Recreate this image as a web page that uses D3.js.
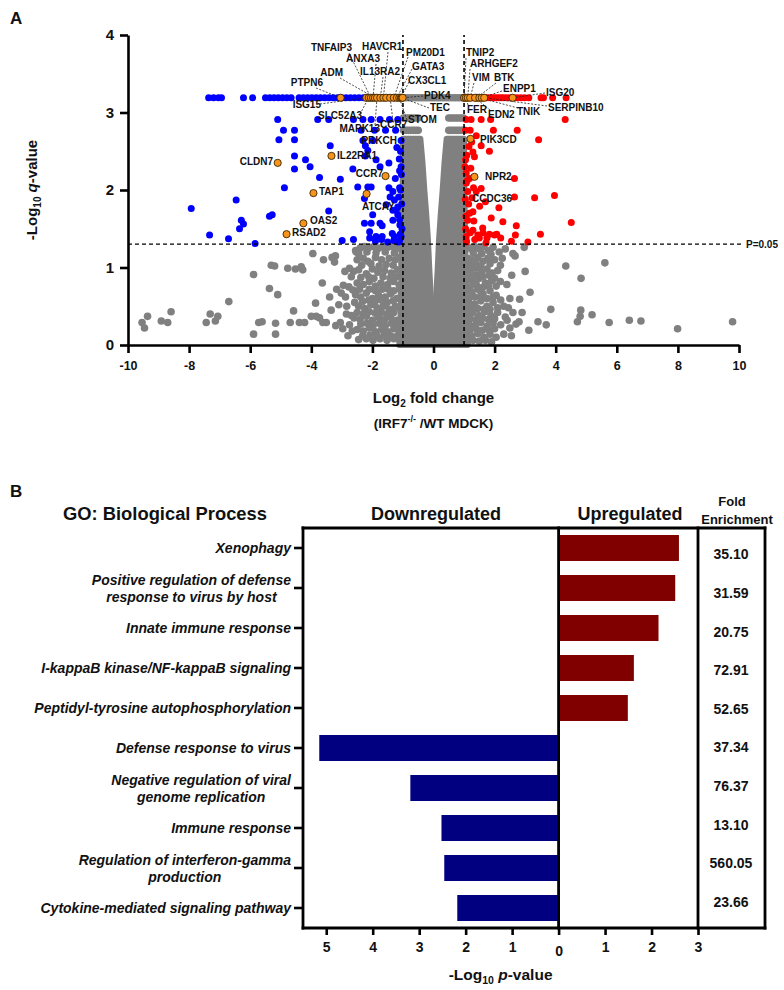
<!DOCTYPE html>
<html><head><meta charset="utf-8">
<script src="https://cdn.jsdelivr.net/npm/d3@7"></script>
<style>
body{margin:0;background:#fff}
svg{display:block}
text{font-family:"Liberation Sans",Arial,Helvetica,sans-serif;font-weight:bold;fill:#111}
</style>
</head><body>
<svg id="c" width="784" height="990"></svg>
<script>
// ---------------- Panel A data (volcano) ----------------
const xTicks = [-10,-8,-6,-4,-2,0,2,4,6,8,10];
const yTicks = [0,1,2,3,4];
const TOP_Q = 3.19;
const FC_CUT = 1;
const Q_CUT = 1.301;

// top-row significant genes (q capped at TOP_Q)
const downTopRowX = [-7.36,-7.2,-7.04,-6.94,-6.22,-5.92,-5.5,-5.36,-5.22,-5.08,-4.94,-4.8,-4.66,-4.4,-4.26,-4.12,-3.98,-3.84,-3.7,-3.56,-3.42,-3.28,-3.14,-3.0,-2.86,-2.72,-2.58,-2.44,-2.3,-2.16,-2.02,-1.88,-1.74,-1.6,-1.46,-1.32,-1.18,-1.04];
const upTopRowX = [1.02,1.1,1.18,1.26,1.34,1.42,1.5,1.58,1.66,1.74,1.82,1.9,1.98,2.06,2.14,2.22,2.3,2.4,2.5,2.62,2.74,2.86,2.98,3.12,3.52,3.6,3.9,4.34];

// other downregulated genes [log2FC, -log10 q]
const downPoints = [
[-5.10,2.91],[-4.91,2.77],[-4.55,2.77],[-5.06,2.65],[-4.55,2.65],[-4.55,2.44],[-4.19,2.39],[-4.04,2.30],[-4.55,2.27],
[-3.73,2.16],[-3.05,2.14],[-3.38,2.57],[-4.88,2.03],[-2.48,2.04],[-6.46,1.87],[-7.93,1.76],[-3.43,1.73],[-5.37,1.66],
[-5.28,1.68],[-6.29,1.61],[-6.22,1.56],[-6.35,1.50],[-7.33,1.42],[-6.71,1.37],[-5.84,1.31],[-2.99,1.35],[-2.62,1.36],
[-3.79,2.91],[-3.43,2.91],[-2.62,2.91],[-2.31,2.91],[-2.04,2.91],[-1.75,2.91],[-1.44,2.91],[-1.17,2.91],
[-2.37,2.77],[-1.93,2.77],[-1.57,2.77],[-1.24,2.77],[-2.31,2.64],[-1.99,2.64],[-1.06,2.64],
[-2.23,2.57],[-2.15,2.51],[-2.23,2.44],[-1.88,2.39],[-1.46,2.35],[-1.75,2.30],[-1.06,2.30],[-1.11,2.25],
[-2.64,2.27],[-2.15,2.04],[-2.04,2.04],[-1.46,2.03],[-1.33,1.98],[-1.11,2.03],[-1.42,1.91],[-1.28,1.87],[-1.14,1.91],
[-1.17,1.78],[-1.55,1.81],[-1.33,1.74],[-1.17,1.68],[-1.11,1.62],[-1.33,1.61],[-2.26,1.89],[-1.99,1.68],[-2.04,1.57],
[-1.75,1.57],[-1.68,1.54],[-2.26,1.57],[-2.09,1.46],[-1.88,1.40],[-1.68,1.40],[-1.35,1.44],[-1.28,1.40],[-1.09,1.43],
[-2.09,1.38],[-1.11,1.35],[-1.22,1.74],[-1.05,2.2],[-1.08,2.0],[-1.04,1.82],[-1.1,1.55],[-1.03,1.5],[-1.06,1.4],
[-1.15,1.33],[-1.3,1.35],[-1.5,1.33],[-1.7,1.36],[-1.9,1.34],[-1.2,2.55],[-1.08,2.5],[-1.12,2.4],[-1.25,2.15]
];
// other upregulated genes
const upPoints = [
[1.07,2.91],[1.23,2.91],[1.56,2.91],[1.87,2.91],[4.31,2.91],[1.05,2.77],[1.2,2.77],[1.96,2.77],[2.74,2.77],[3.44,2.65],
[1.56,2.57],[1.16,2.56],[1.83,2.50],[1.29,2.49],[1.09,2.45],[1.34,2.43],[1.05,2.39],[2.65,2.15],[1.07,2.22],[1.18,2.15],
[1.07,2.09],[1.31,2.03],[1.56,2.02],[1.12,1.98],[2.65,1.91],[3.31,1.90],[3.96,1.93],[1.51,1.79],[2.14,1.77],[1.29,1.72],
[1.89,1.64],[2.27,1.59],[2.71,1.54],[4.51,1.58],[3.50,1.43],[2.68,1.42],[2.07,1.43],[1.83,1.43],[1.29,1.48],[1.45,1.42],
[1.07,1.40],[1.12,1.61],[1.61,1.51],[3.09,1.33],[1.72,1.32],[1.07,1.35],[1.03,2.3],[1.1,2.12],[1.22,2.28],[1.04,1.88],
[1.15,1.82],[1.26,1.9],[1.06,1.66],[1.18,1.7],[1.32,1.6],[1.05,1.5],[1.2,1.45],[1.35,1.36],[1.5,1.38],[1.62,1.45],
[1.75,1.38],[2.0,1.42],[2.2,1.38],[1.08,1.33],[2.55,1.34],[1.4,1.98],[1.7,1.85],[1.25,2.62],[1.4,2.7]
];
// non-significant genes drawn individually
const nsRows = [
{q:3.19, xs:[-0.98,-0.88,-0.78,-0.68,-0.58,-0.48,-0.38,-0.28,-0.18,-0.08,0.02,0.12,0.22,0.32,0.42,0.52,0.62,0.72,0.82,0.92,0.98]},
{q:2.93, xs:[-0.98,-0.9,-0.82,-0.74,-0.66,-0.58,-0.5,0.5,0.58,0.66,0.74,0.82,0.9,0.98]},
{q:2.77, xs:[-0.98,-0.9,-0.82,-0.74,-0.66,-0.58,-0.5,0.5,0.58,0.66,0.74,0.82,0.9,0.98]}
];
const nsPoints = [
[-9.54,0.29],[-9.46,0.22],[-9.36,0.37],[-8.91,0.31],[-8.7,0.29],[-8.59,0.43],[-7.44,0.29],[-7.31,0.40],[-7.14,0.31],
[-7.06,0.37],[-6.70,0.56],[-5.89,0.91],[-5.89,0.14],[-5.72,0.29],[-5.61,0.30],[-5.37,0.73],[-5.31,1.03],[-5.2,1.02],
[-5.17,0.28],[-5.17,0.14],[-5.1,0.65],[-4.77,0.99],[-4.69,0.29],[-4.58,0.44],[-4.52,0.98],[-4.33,1.01],[-4.28,0.97],
[-4.39,0.29],[-4.22,0.29],[-3.95,1.18],[-3.86,0.54],[-4.0,0.37],[-3.84,0.37],[-3.73,0.35],[-3.62,0.29],[-3.6,1.10],
[-3.64,0.80],[-3.51,0.29],[-3.32,1.13],[-3.24,1.07],[-3.21,1.15],[-3.17,0.72],[-3.10,0.52],[-3.05,0.29],[-3.02,0.67],
[-2.97,0.21],[-2.95,0.77],[-2.84,0.50],[-2.77,0.75],[-2.75,0.26],[-2.75,0.99],[-2.69,0.88],[-2.69,0.38],[-2.66,0.18],
[-2.64,0.71],[-2.53,1.20],
[-2.55,1.22],[-2.4,1.25],[-2.25,1.27],[-2.1,1.26],[-1.95,1.27],[-1.8,1.25],[-1.65,1.27],[-1.5,1.26],[-1.35,1.27],[-1.2,1.25],[-1.08,1.27],
[-2.5,1.1],[-2.3,1.12],[-2.15,1.08],[-1.9,1.13],[-1.7,1.1],[-1.45,1.12],[-1.25,1.1],[-1.1,1.13],
[-2.62,0.95],[-2.45,0.97],[-2.2,0.92],[-2.0,0.98],[-1.82,0.94],[-1.6,0.96],[-1.38,0.93],[-1.18,0.97],[-1.05,0.9],
[-2.5,0.8],[-2.3,0.78],[-2.1,0.82],[-1.9,0.76],[-1.72,0.8],[-1.5,0.78],[-1.3,0.82],[-1.12,0.77],
[-2.55,0.65],[-2.38,0.62],[-2.2,0.67],[-2.0,0.6],[-1.8,0.64],[-1.58,0.62],[-1.4,0.66],[-1.2,0.6],[-1.05,0.65],
[-2.45,0.5],[-2.25,0.47],[-2.05,0.52],[-1.85,0.48],[-1.65,0.5],[-1.45,0.46],[-1.25,0.5],[-1.1,0.47],
[-2.6,0.35],[-2.4,0.33],[-2.2,0.37],[-2.0,0.32],[-1.8,0.36],[-1.6,0.33],[-1.4,0.36],[-1.2,0.32],[-1.05,0.35],
[-2.5,0.2],[-2.3,0.18],[-2.1,0.22],[-1.9,0.17],[-1.7,0.2],[-1.5,0.17],[-1.3,0.21],[-1.12,0.18],
[-2.45,0.07],[-2.2,0.08],[-1.98,0.06],[-1.75,0.08],[-1.52,0.06],[-1.3,0.08],[-1.1,0.06],
[-2.45,1.18],[-2.18,1.2],[-1.88,1.19],[-1.58,1.2],[-1.28,1.19],[-1.02,1.2],[-2.35,1.03],[-2.05,1.05],[-1.78,1.02],
[-1.55,1.04],[-1.32,1.03],[-1.03,1.05],[-2.38,0.87],[-2.12,0.88],[-1.95,0.86],[-1.65,0.88],[-1.42,0.86],[-1.22,0.88],
[-1.02,0.82],[-2.42,0.72],[-2.1,0.72],[-1.9,0.7],[-1.68,0.72],[-1.48,0.72],[-1.3,0.7],[-1.1,0.72],[-2.32,0.56],
[-2.12,0.58],[-1.92,0.56],[-1.72,0.58],[-1.52,0.55],[-1.32,0.57],[-1.02,0.55],[-2.5,0.42],[-2.3,0.4],[-2.1,0.43],
[-1.9,0.41],[-1.7,0.42],[-1.5,0.4],[-1.3,0.42],[-1.02,0.42],[-2.38,0.27],[-2.18,0.28],[-1.98,0.25],[-1.78,0.28],
[-1.58,0.25],[-1.38,0.28],[-1.18,0.25],[-1.02,0.25],[-2.32,0.12],[-2.08,0.13],[-1.85,0.12],[-1.62,0.13],[-1.4,0.12],
[-1.18,0.12],[-1.02,0.1],[-2.85,0.4],[-2.88,0.62],[-2.9,0.95],[-2.58,0.55],[-3.35,0.45],[-3.4,0.62],[-2.8,0.12],[-3.2,0.25],
[1.08,1.27],[1.2,1.25],[1.35,1.27],[1.5,1.24],[1.65,1.27],[1.8,1.22],[1.95,1.26],[2.15,1.2],[2.35,1.24],[2.6,1.18],[2.97,1.26],
[1.12,1.12],[1.28,1.1],[1.45,1.13],[1.62,1.08],[1.78,1.12],[2.0,1.1],[2.67,1.15],
[1.05,0.98],[1.22,0.96],[1.4,0.99],[1.58,0.94],[1.75,0.98],[1.92,0.93],[2.19,1.03],[2.56,0.9],
[1.1,0.84],[1.3,0.82],[1.5,0.86],[1.7,0.8],[1.9,0.83],[2.19,0.82],[2.4,0.78],
[1.05,0.7],[1.25,0.68],[1.45,0.72],[1.62,0.66],[1.85,0.7],[2.05,0.64],[2.82,0.59],[3.16,0.68],
[1.15,0.55],[1.35,0.53],[1.55,0.57],[1.75,0.5],[1.95,0.55],[2.3,0.5],[2.5,0.6],
[1.08,0.4],[1.28,0.42],[1.48,0.38],[1.68,0.43],[1.88,0.38],[2.1,0.42],[2.35,0.36],[2.6,0.42],
[1.15,0.27],[1.35,0.25],[1.55,0.29],[1.75,0.24],[1.95,0.28],[2.2,0.26],[2.41,0.32],[2.7,0.27],[3.42,0.30],[3.69,0.26],
[1.05,0.13],[1.25,0.12],[1.45,0.15],[1.65,0.1],[1.85,0.14],[2.05,0.1],[2.3,0.14],[2.55,0.12],[3.12,0.19],
[1.12,0.04],[1.5,0.05],[1.9,0.04],
[1.02,1.2],[1.3,1.19],[1.58,1.18],[1.88,1.17],[2.25,1.12],[1.02,1.06],[1.2,1.04],[1.38,1.05],[1.55,1.02],[1.85,1.05],
[2.1,0.96],[1.02,0.9],[1.2,0.88],[1.4,0.9],[1.62,0.88],[1.82,0.9],[2.0,0.86],[1.02,0.78],[1.2,0.75],[1.4,0.78],
[1.6,0.74],[1.8,0.76],[2.05,0.76],[1.02,0.62],[1.15,0.6],[1.35,0.62],[1.55,0.64],[1.75,0.6],[1.95,0.62],[2.2,0.58],
[1.02,0.48],[1.25,0.48],[1.45,0.47],[1.65,0.46],[1.85,0.46],[2.1,0.48],[1.02,0.34],[1.2,0.34],[1.4,0.33],[1.6,0.35],
[1.8,0.33],[2.0,0.34],[1.02,0.2],[1.2,0.2],[1.4,0.21],[1.6,0.19],[1.8,0.2],[2.0,0.21],[1.3,0.06],[1.7,0.06],
[2.45,0.48],[2.5,0.22],[2.8,0.3],
[3.84,0.46],[4.33,1.02],[4.83,0.86],[5.61,1.06],[4.82,0.45],[5.19,0.39],[4.8,0.37],[4.71,0.30],[5.75,0.29],
[6.41,0.32],[6.79,0.31],[7.99,0.21],[9.79,0.30],[3.0,0.95],[2.9,0.42]
];
// envelope of the densely overlapping non-significant genes around log2FC = 0
const cloudQ     = [0,    0.12, 0.45, 0.71, 1.0,  1.35, 1.7,  2.0,  2.35, 2.66];
const cloudInner = [0,    0,    0.06, 0.1,  0.14, 0.18, 0.24, 0.3,  0.36, 0.43];
const cloudOuter = [1.12, 1.1,  1.07, 1.05, 1.04, 1.03, 1.02, 1.01, 1.0,  1.0];

// highlighted genes
const hiIds   = ["PTPN6","ISG15","SLC52A3","TNFAIP3","ANXA3","ADM","MAPK13","IL13RA2","HAVCR1","PRKCH","CCR7a","PM20D1","GATA3","STOM","CX3CL1","TEC","PDK4",
                 "TNIP2","FER","ARHGEF2","VIM","BTK","EDN2","TNIK","ENPP1","SERPINB10","ISG20",
                 "IL22RA1","CLDN7","CCR7b","TAP1","ATCAY","OAS2","RSAD2","PIK3CD","NPR2"];
const hiNames = ["PTPN6","ISG15","SLC52A3","TNFAIP3","ANXA3","ADM","MAPK13","IL13RA2","HAVCR1","PRKCH","CCR7","PM20D1","GATA3","STOM","CX3CL1","TEC","PDK4",
                 "TNIP2","FER","ARHGEF2","VIM","BTK","EDN2","TNIK","ENPP1","SERPINB10","ISG20",
                 "IL22RA1","CLDN7","CCR7","TAP1","ATCAY","OAS2","RSAD2","PIK3CD","NPR2"];
const hiLog2FC = [-3.04,-2.2,-2.12,-2.05,-1.98,-1.92,-1.85,-1.74,-1.64,-1.55,-1.42,-1.3,-1.2,-1.12,-1.07,-1.04,-1.01,
                  1.0,1.06,1.12,1.2,1.42,1.36,1.5,1.58,1.66,2.59,
                  -3.34,-5.1,-1.57,-3.93,-2.19,-4.26,-4.81,1.21,1.34];
const hiLogQ   = [3.19,3.19,3.19,3.19,3.19,3.19,3.19,3.19,3.19,3.19,3.19,3.19,3.19,3.19,3.19,3.19,3.19,
                  3.19,3.19,3.19,3.19,3.19,3.19,3.19,3.19,3.19,3.19,
                  2.44,2.35,2.18,1.96,1.95,1.57,1.43,2.66,2.17];

// ---------------- Panel B data (GO) ----------------
const goTerms = ["Xenophagy","Positive regulation of defense\nresponse to virus by host","Innate immune response",
  "I-kappaB kinase/NF-kappaB signaling","Peptidyl-tyrosine autophosphorylation","Defense response to virus",
  "Negative regulation of viral\ngenome replication","Immune response","Regulation of interferon-gamma\nproduction",
  "Cytokine-mediated signaling pathway"];
const goDirection = ["up","up","up","up","up","down","down","down","down","down"];
const goLogP = [2.59,2.51,2.15,1.62,1.49,5.15,3.19,2.52,2.46,2.18];
const goFold = ["35.10","31.59","20.75","72.91","52.65","37.34","76.37","13.10","560.05","23.66"];
const goTicks = [-5,-4,-3,-2,-1,0,1,2,3];

// ---------------- layout (annotation placement, px) ----------------
// [id, textX, textBaseline, anchor, leaderFromX, leaderFromY]
const labelLayout = [
["PTPN6",323,86,"end",316,88],["TNFAIP3",352,51,"end",349,53],["HAVCR1",362,50,"start",388,52],
["ANXA3",380,62,"end",376,64],["ADM",343,76,"end",340,78],["IL13RA2",360,75,"start",383,77],
["PM20D1",406,56,"start",408,57],["GATA3",412,70,"start",412,69],["CX3CL1",408,84,"start",409,82],
["PDK4",424,99,"start",423,96],["TEC",430,111,"start",429,108],["STOM",408,123,"start",407,120],
["ISG15",321,108,"end",320,104],["SLC52A3",362,119,"end",360,114],["MAPK13",380,132,"end",375,125],
["CCR7a",380,128,"start",393,121],["PRKCH",397,144,"end",null,null],
["TNIP2",466,56,"start",466,58],["ARHGEF2",470,67,"start",470,69],["VIM",472,81,"start",474,83],
["BTK",494,81,"start",496,83],["ENPP1",503,92,"start",502,91],["ISG20",546,96,"start",545,93],
["SERPINB10",548,111,"start",547,106],["TNIK",517,115,"start",518,108],["EDN2",488,118,"start",490,110],
["FER",467,113,"start",468,105],
["IL22RA1",337,159,"start",null,null],["CLDN7",273,165,"end",null,null],["CCR7b",383,177,"end",null,null],
["TAP1",319,195,"start",null,null],["ATCAY",362,210,"start",null,null],["OAS2",310,224,"start",null,null],
["RSAD2",292,236,"start",null,null],["PIK3CD",480,143,"start",null,null],["NPR2",485,180,"start",null,null],
["CCDC36",472,202,"start",null,null]
];

const svg = d3.select("#c");
const COL = {down:"#0000ff", up:"#ff0000", ns:"#808080", hi:"#f7941d"};

// ================= Panel A =================
const vx = d3.scaleLinear().domain([-10,10]).range([128,739]);
const vy = d3.scaleLinear().domain([0,4]).range([345,35]);
const gA = svg.append("g");

// dense grey envelope
const cloud = cloudQ.map((q,i)=>({q, inner:cloudInner[i], outer:cloudOuter[i]}));
const areaL = d3.area().y(d=>vy(d.q)).x0(d=>vx(-d.outer)).x1(d=>vx(-d.inner));
const areaR = d3.area().y(d=>vy(d.q)).x0(d=>vx(d.inner)).x1(d=>vx(d.outer));
[areaL,areaR].forEach(a=>gA.append("path").attr("d",a(cloud)).attr("fill",COL.ns)
  .attr("stroke",COL.ns).attr("stroke-width",6).attr("stroke-linejoin","round"));

const R = 3.5;
const nsAll = nsPoints.concat(...nsRows.map(r=>r.xs.map(x=>[x,r.q])));
gA.append("g").selectAll("circle").data(nsAll).join("circle")
  .attr("cx",d=>vx(d[0])).attr("cy",d=>vy(d[1])).attr("r",R+0.3).attr("fill",COL.ns);
const downAll = downPoints.concat(downTopRowX.map(x=>[x,TOP_Q]));
gA.append("g").selectAll("circle").data(downAll).join("circle")
  .attr("cx",d=>vx(d[0])).attr("cy",d=>vy(d[1])).attr("r",R).attr("fill",COL.down);
const upAll = upPoints.concat(upTopRowX.map(x=>[x,TOP_Q]));
gA.append("g").selectAll("circle").data(upAll).join("circle")
  .attr("cx",d=>vx(d[0])).attr("cy",d=>vy(d[1])).attr("r",R).attr("fill",COL.up);

// thresholds
[-FC_CUT,FC_CUT].forEach(v=>gA.append("line").attr("x1",vx(v)).attr("x2",vx(v)).attr("y1",vy(0)).attr("y2",vy(4))
  .attr("stroke","#000").attr("stroke-width",1.6).attr("stroke-dasharray","4,3"));
gA.append("line").attr("x1",vx(-10)).attr("x2",vx(10)+5).attr("y1",vy(Q_CUT)).attr("y2",vy(Q_CUT))
  .attr("stroke","#000").attr("stroke-width",1.4).attr("stroke-dasharray","4,3");
gA.append("text").attr("x",746).attr("y",vy(Q_CUT)+3.5).attr("font-size",10).text("P=0.05");

// axes
const axY = gA.append("g").attr("transform",`translate(${vx(-10)},0)`)
  .call(d3.axisLeft(vy).tickValues(yTicks).tickFormat(d=>String(d)).tickSize(8).tickSizeOuter(0).tickPadding(6));
const axX = gA.append("g").attr("transform",`translate(0,${vy(0)})`)
  .call(d3.axisBottom(vx).tickValues(xTicks).tickFormat(d=>String(d)).tickSize(8).tickSizeOuter(0).tickPadding(8));
[axY,axX].forEach(a=>{a.selectAll("path,line").attr("stroke","#000").attr("stroke-width",2.6);
  a.selectAll("text").attr("fill","#111").attr("font-weight","bold").attr("font-family",'"Liberation Sans",Arial,sans-serif');});
axY.selectAll("text").attr("font-size",15);
axX.selectAll("text").attr("font-size",12.5);

// highlighted genes
const hi = hiIds.map((id,i)=>({id, name:hiNames[i], x:hiLog2FC[i], q:hiLogQ[i]}));
const hiById = new Map(hi.map(d=>[d.id,d]));
const gLead = gA.append("g");
labelLayout.forEach(L=>{
  const p = hiById.get(L[0]);
  if (p && L[4]!==null) gLead.append("line").attr("x1",L[4]).attr("y1",L[5]).attr("x2",vx(p.x)).attr("y2",vy(p.q))
     .attr("stroke","#222").attr("stroke-width",0.8).attr("stroke-dasharray","2,1.5");
});
gA.append("g").selectAll("circle").data(hi).join("circle")
  .attr("cx",d=>vx(d.x)).attr("cy",d=>vy(d.q)).attr("r",3.6).attr("fill",COL.hi)
  .attr("stroke","#3b2600").attr("stroke-width",0.9);
gA.append("g").selectAll("text").data(labelLayout).join("text")
  .attr("x",d=>d[1]).attr("y",d=>d[2]).attr("text-anchor",d=>d[3]).attr("font-size",10).attr("fill","#1a1a1a")
  .text(d=>{const p=hiById.get(d[0]); return p? p.name : d[0];});

// titles
gA.append("text").attr("x",10).attr("y",24).attr("font-size",17).text("A");
const xt = gA.append("text").attr("x",vx(0)).attr("y",403).attr("text-anchor","middle").attr("font-size",15);
xt.append("tspan").text("Log");
xt.append("tspan").attr("font-size",10).attr("dy",4).text("2");
xt.append("tspan").attr("dy",-4).text(" fold change");
const xt2 = gA.append("text").attr("x",vx(0)).attr("y",428).attr("text-anchor","middle").attr("font-size",13.5);
xt2.append("tspan").text("(IRF7");
xt2.append("tspan").attr("font-size",9).attr("dy",-6).text("-/-");
xt2.append("tspan").attr("dy",6).text(" /WT MDCK)");
const yt = gA.append("text").attr("transform","translate(37,190) rotate(-90)").attr("text-anchor","middle").attr("font-size",15);
yt.append("tspan").text("-Log");
yt.append("tspan").attr("font-size",10).attr("dy",4).text("10");
yt.append("tspan").attr("dy",-4).text(" ");
yt.append("tspan").attr("font-style","italic").text("q");
yt.append("tspan").text("-value");

// ================= Panel B =================
const gB = svg.append("g");
const bx = d3.scaleLinear().domain([-5.5,3]).range([303,698]);
const by = d3.scaleBand().domain(goTerms).range([528,928]).paddingInner(0.35).paddingOuter(0.175);
const byFold = d3.scaleBand().domain(goTerms).range([535,921]);
const BOX_R = 765, TOP = 528, BOT = 928;

gB.append("text").attr("x",10).attr("y",497).attr("font-size",17).text("B");
gB.append("text").attr("x",165).attr("y",520).attr("text-anchor","middle").attr("font-size",18)
  .attr("textLength",204).attr("lengthAdjust","spacingAndGlyphs").text("GO: Biological Process");
gB.append("text").attr("x",436).attr("y",520).attr("text-anchor","middle").attr("font-size",18).text("Downregulated");
gB.append("text").attr("x",630).attr("y",520).attr("text-anchor","middle").attr("font-size",18).text("Upregulated");
gB.append("text").attr("x",732).attr("y",506).attr("text-anchor","middle").attr("font-size",13).text("Fold");
gB.append("text").attr("x",737).attr("y",524).attr("text-anchor","middle").attr("font-size",13).text("Enrichment");

// bars
gB.append("g").selectAll("rect").data(goTerms).join("rect")
  .attr("x",(d,i)=> goDirection[i]==="up" ? bx(0) : bx(-goLogP[i]))
  .attr("width",(d,i)=> Math.abs(bx(goLogP[i])-bx(0)))
  .attr("y",d=>by(d)).attr("height",by.bandwidth())
  .attr("fill",(d,i)=> goDirection[i]==="up" ? "#800000" : "#000080");

// frame
const lineB = (x1,y1,x2,y2)=>gB.append("line").attr("x1",x1).attr("y1",y1).attr("x2",x2).attr("y2",y2)
  .attr("stroke","#000").attr("stroke-width",2.8).attr("stroke-linecap","square");
lineB(bx(-5.5),TOP,BOX_R,TOP);
lineB(bx(-5.5),TOP,bx(-5.5),BOT);
lineB(bx(-5.5),BOT,BOX_R,BOT);
lineB(BOX_R,TOP,BOX_R,BOT);
lineB(bx(0),TOP,bx(0),BOT);
lineB(bx(3),TOP,bx(3),BOT);

// bottom axis
const axB = gB.append("g").attr("transform",`translate(0,${BOT})`)
  .call(d3.axisBottom(bx).tickValues(goTicks).tickFormat(d=>String(Math.abs(d))).tickSize(7).tickSizeOuter(0).tickPadding(6));
axB.select(".domain").remove();
axB.selectAll("line").attr("stroke","#000").attr("stroke-width",2.6);
axB.selectAll("text").attr("font-size",14).attr("font-weight","bold").attr("fill","#111")
  .attr("font-family",'"Liberation Sans",Arial,sans-serif')
  .attr("dy",d=> d===0 ? "1.05em" : "0.8em");

// category ticks & labels
gB.append("g").selectAll("line").data(goTerms).join("line")
  .attr("x1",bx(-5.5)-9).attr("x2",bx(-5.5)).attr("y1",d=>by(d)+by.bandwidth()/2).attr("y2",d=>by(d)+by.bandwidth()/2)
  .attr("stroke","#000").attr("stroke-width",2.6);
const LAB_R = 291;
goTerms.forEach(t=>{
  const c = by(t)+by.bandwidth()/2;
  const parts = t.split("\n");
  if (parts.length===1){
    gB.append("text").attr("x",LAB_R).attr("y",c+5).attr("text-anchor","end")
      .attr("font-size",14).attr("font-style","italic").text(t);
  } else {
    const t1 = gB.append("text").attr("y",c-3).attr("text-anchor","middle")
      .attr("font-size",14).attr("font-style","italic").text(parts[0]);
    const w = t1.node().getComputedTextLength();
    const cx = LAB_R - w/2;
    t1.attr("x",cx);
    gB.append("text").attr("x",cx).attr("y",c+14).attr("text-anchor","middle")
      .attr("font-size",14).attr("font-style","italic").text(parts[1]);
  }
});

// fold enrichment
gB.append("g").selectAll("text").data(goTerms).join("text")
  .attr("x",731).attr("y",d=>byFold(d)+byFold.bandwidth()/2+5).attr("text-anchor","middle")
  .attr("font-size",14).text((d,i)=>goFold[i]);

// axis title
const bt = gB.append("text").attr("x",bx(0)-58).attr("y",980).attr("text-anchor","middle").attr("font-size",15.5);
bt.append("tspan").text("-Log");
bt.append("tspan").attr("font-size",10.5).attr("dy",4).text("10");
bt.append("tspan").attr("dy",-4).text(" ");
bt.append("tspan").attr("font-style","italic").text("p");
bt.append("tspan").text("-value");
</script>
</body></html>
